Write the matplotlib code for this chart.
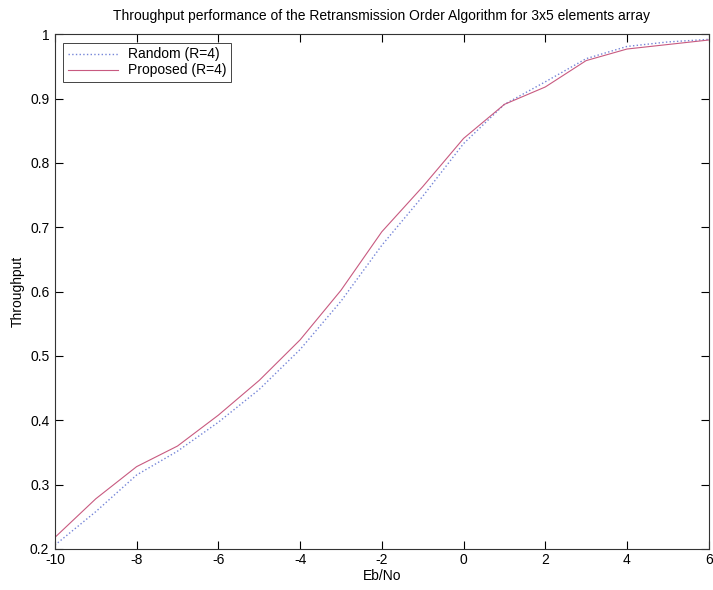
import numpy as np
import matplotlib
matplotlib.use("Agg")
import matplotlib.pyplot as plt

plt.rcParams['font.family'] = ['Liberation Sans', 'DejaVu Sans']
plt.rcParams['axes.unicode_minus'] = False

# Eb/No sweep (dB) and throughput for both retransmission orderings
ebno = [-10, -9, -8, -7, -6, -5, -4, -3, -2, -1, 0, 1, 2, 3, 4, 5, 6]
random_r4 = [0.206, 0.258, 0.315, 0.352, 0.397, 0.448, 0.510, 0.585, 0.672,
             0.748, 0.830, 0.891, 0.926, 0.962, 0.981, 0.988, 0.992]
proposed_r4 = [0.218, 0.278, 0.328, 0.360, 0.408, 0.462, 0.525, 0.602, 0.693,
               0.763, 0.838, 0.891, 0.918, 0.959, 0.977, 0.984, 0.991]

fig = plt.figure(figsize=(7.13, 5.9), dpi=100)
ax = fig.add_axes([0.077, 0.0695, 0.917, 0.8725])

ax.plot(ebno, random_r4, color='#7585d8', linestyle=':', linewidth=1.0, label='Random (R=4)')
ax.plot(ebno, proposed_r4, color='#c85a80', linestyle='-', linewidth=0.8, label='Proposed (R=4)')

ax.set_xlim(-10, 6)
ax.set_ylim(0.2, 1.0)
ax.set_xticks(range(-10, 7, 2))
ax.set_yticks(np.arange(0.2, 1.01, 0.1))
ax.set_yticklabels(['0.2', '0.3', '0.4', '0.5', '0.6', '0.7', '0.8', '0.9', '1'])
ax.tick_params(direction='in', top=True, right=True, labelsize=10, length=6, width=0.8)
ax.tick_params(axis='y', pad=4)
ax.tick_params(axis='x', pad=3)
for s in ax.spines.values():
    s.set_linewidth(0.8)
    s.set_color('#333333')

ax.set_xlabel('Eb/No', fontsize=10, labelpad=1)
ax.set_ylabel('Throughput', fontsize=10, labelpad=4)
ax.set_title('Throughput performance of the Retransmission Order Algorithm for 3x5 elements array',
             fontsize=10, pad=10)

leg = ax.legend(loc='upper left', fontsize=10, fancybox=False, framealpha=1,
                edgecolor='#444444', borderpad=0.35, labelspacing=0.15,
                handlelength=3.6, handletextpad=0.7, borderaxespad=0.6)
leg.get_frame().set_linewidth(0.7)

fig.savefig('out.png', dpi=100)
